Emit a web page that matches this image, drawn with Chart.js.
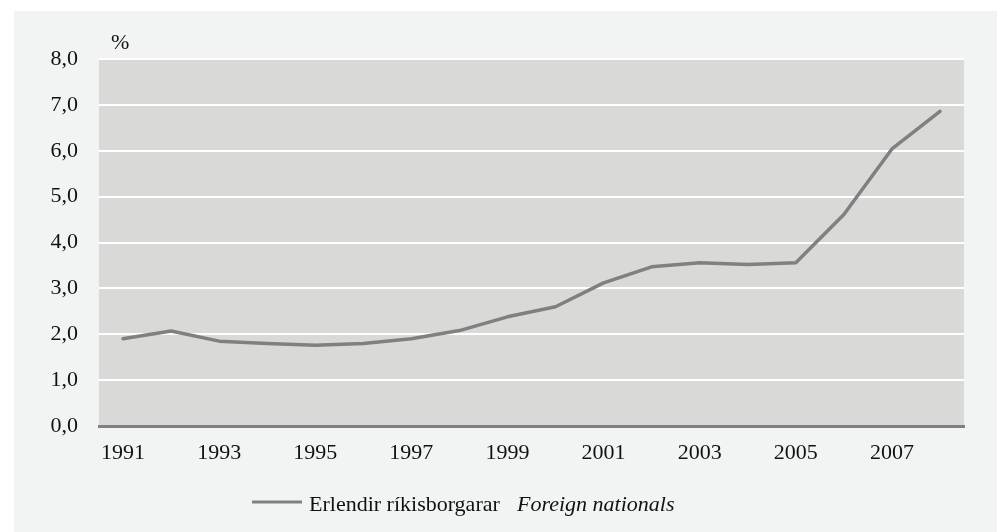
<!DOCTYPE html>
<html>
<head>
<meta charset="utf-8">
<script src="https://cdn.jsdelivr.net/npm/chart.js@4"></script>
<style>
  html, body { margin: 0; padding: 0; background: #ffffff; }
  #wrap { position: relative; width: 997px; height: 532px; }
  canvas { display: block; }
</style>
</head>
<body>
<div id="wrap"><canvas id="c" width="997" height="532"></canvas></div>
<script>
const years = ['1991','1992','1993','1994','1995','1996','1997','1998','1999','2000','2001','2002','2003','2004','2005','2006','2007','2008'];
const foreignNationals = [1.90, 2.07, 1.85, 1.80, 1.76, 1.80, 1.90, 2.08, 2.38, 2.60, 3.12, 3.47, 3.56, 3.52, 3.56, 4.61, 6.04, 6.86];
const yTicks = [0, 1, 2, 3, 4, 5, 6, 7, 8];
const unitLabel = '%';
const legendMain = 'Erlendir ríkisborgarar';
const legendItalic = 'Foreign nationals';

const FONT = '"Liberation Serif", "DejaVu Serif", serif';
const LINE_COLOR = '#808080';

const bgPlugin = {
  id: 'bg',
  beforeDraw(chart) {
    const ctx = chart.ctx;
    const a = chart.chartArea;
    ctx.save();
    ctx.fillStyle = '#f2f4f3';
    ctx.fillRect(14, 11, chart.width - 14, chart.height - 11);
    ctx.fillStyle = '#d9d9d7';
    ctx.fillRect(a.left, a.top, a.right - a.left, a.bottom - a.top);
    ctx.restore();
  },
  afterDraw(chart) {
    const ctx = chart.ctx;
    const a = chart.chartArea;
    ctx.save();
    ctx.fillStyle = '#111111';
    ctx.font = '22px ' + FONT;
    ctx.textBaseline = 'middle';
    ctx.textAlign = 'left';
    ctx.fillText(unitLabel, a.left + 12, 43);
    // legend
    const ly = 502;
    ctx.strokeStyle = LINE_COLOR;
    ctx.lineWidth = 3;
    ctx.beginPath();
    ctx.moveTo(252, ly);
    ctx.lineTo(302, ly);
    ctx.stroke();
    ctx.textBaseline = 'alphabetic';
    ctx.font = '22px ' + FONT;
    ctx.fillText(legendMain, 309, 511);
    ctx.font = 'italic 22px ' + FONT;
    ctx.fillText(legendItalic, 517, 511);
    ctx.restore();
  }
};

new Chart(document.getElementById('c'), {
  type: 'line',
  data: {
    labels: years,
    datasets: [{
      label: legendMain,
      data: foreignNationals,
      borderColor: LINE_COLOR,
      borderWidth: 3.5,
      pointRadius: 0,
      tension: 0,
      borderCapStyle: 'round',
      borderJoinStyle: 'round',
      fill: false
    }]
  },
  options: {
    responsive: false,
    animation: false,
    layout: { padding: { left: 0, right: 33, top: 59, bottom: 0 } },
    plugins: { legend: { display: false }, tooltip: { enabled: false } },
    scales: {
      x: {
        type: 'category',
        offset: true,
        grid: { display: false, drawTicks: false },
        border: { display: true, color: LINE_COLOR, width: 3 },
        ticks: {
          autoSkip: false,
          maxRotation: 0,
          color: '#111111',
          font: { family: FONT, size: 22 },
          padding: 14,
          callback: function(v, i) { return i % 2 === 0 ? years[i] : ''; }
        },
        afterFit(scale) { scale.height = 106; }
      },
      y: {
        min: 0,
        max: 8,
        afterBuildTicks(scale) { scale.ticks = yTicks.map(v => ({ value: v })); },
        grid: { color: '#ffffff', lineWidth: 2, drawTicks: false },
        border: { display: false },
        ticks: {
          color: '#111111',
          font: { family: FONT, size: 22 },
          padding: 21,
          callback: function(v) { return Number(v).toFixed(1).replace('.', ','); }
        },
        afterFit(scale) { scale.width = 99; }
      }
    }
  },
  plugins: [bgPlugin]
});
</script>
</body>
</html>
